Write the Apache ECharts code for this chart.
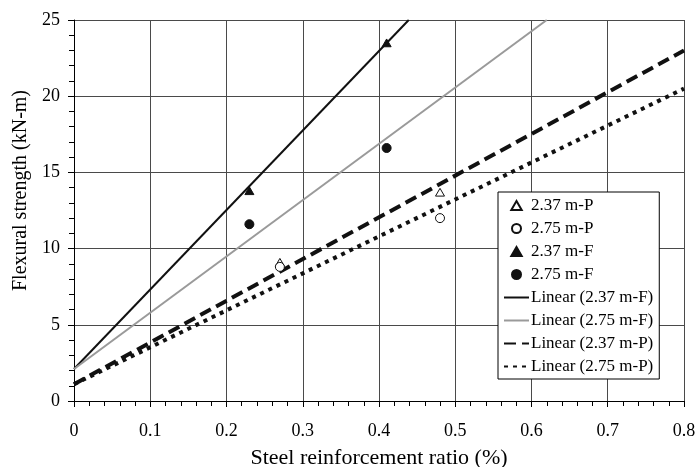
<!DOCTYPE html>
<html>
<head>
<meta charset="utf-8">
<script src="https://cdn.jsdelivr.net/npm/echarts@6/dist/echarts.min.js"></script>
<style>
  html, body { margin: 0; padding: 0; background: #fff; }
  #main { width: 696px; height: 467px; }
</style>
</head>
<body>
<div id="main"></div>
<script>
// measured points (x = steel ratio %, y = strength kN-m)
var p237 = [[0.27, 9.1], [0.48, 13.7]];
var p275 = [[0.27, 8.8], [0.48, 12.0]];
var f237 = [[0.23, 13.8], [0.41, 23.5]];
var f275 = [[0.23, 11.6], [0.41, 16.6]];

// trend line end points
var lin237F = [[0, 2.1], [0.439, 25]];
var lin275F = [[0, 2.1], [0.62, 25]];
var lin237P = [[0, 1.1], [0.8, 23.0]];
var lin275P = [[0, 1.1], [0.8, 20.5]];

var markerNames = ['2.37 m-P', '2.75 m-P', '2.37 m-F', '2.75 m-F'];
var lineNames = ['Linear (2.37 m-F)', 'Linear (2.75 m-F)', 'Linear (2.37 m-P)', 'Linear (2.75 m-P)'];

var FONT = 'Liberation Serif';
// path triangle so it keeps its shape in the legend too
var TRI = 'path://M5,0L10,8.66L0,8.66Z';

var chart = echarts.init(document.getElementById('main'));

function lineSeries(name, data, color, width, type) {
  return {
    name: name,
    type: 'line',
    data: data,
    symbol: 'none',
    silent: true,
    z: 2,
    lineStyle: { color: color, width: width, type: type },
    itemStyle: { color: color }
  };
}

function scatterSeries(name, data, symbol, fill) {
  return {
    name: name,
    type: 'scatter',
    data: data,
    symbol: symbol,
    symbolSize: 9,
    symbolKeepAspect: true,
    z: 3,
    itemStyle: {
      color: fill ? '#111' : '#fff',
      borderColor: '#111',
      borderWidth: 1,
      opacity: 1
    }
  };
}

// legend entries: line entries hide the middle symbol
var legendData = markerNames.map(function (n) { return { name: n }; })
  .concat(lineNames.map(function (n) { return { name: n, itemStyle: { opacity: 0 } }; }));

chart.setOption({
  animation: false,
  backgroundColor: '#fff',
  textStyle: { fontFamily: FONT },
  grid: { left: 74, top: 20, right: 12, bottom: 66, outerBoundsMode: 'none' },
  legend: {
    data: legendData,
    orient: 'vertical',
    left: 498,
    top: 192,
    width: 163,
    padding: [5, 6, 4, 5],
    itemGap: 6,
    itemWidth: 25,
    itemHeight: 9,
    symbolKeepAspect: true,
    backgroundColor: '#fff',
    borderColor: '#000',
    borderWidth: 1,
    textStyle: { fontFamily: FONT, fontSize: 17, color: '#000', padding: [0, 0, 0, -3] }
  },
  xAxis: {
    type: 'value',
    min: 0,
    max: 0.8,
    interval: 0.1,
    name: 'Steel reinforcement ratio (%)',
    nameLocation: 'middle',
    nameGap: 46,
    nameTextStyle: { fontFamily: FONT, fontSize: 22, color: '#000' },
    axisLine: { lineStyle: { color: '#000', width: 1 } },
    axisTick: { show: true, length: 6, inside: false, lineStyle: { color: '#000' } },
    minorTick: { show: true, splitNumber: 5, length: 5, lineStyle: { color: '#000' } },
    axisLabel: {
      fontFamily: FONT, fontSize: 18, color: '#000', margin: 21,
      formatter: function (v) { return String(Math.round(v * 10) / 10); }
    },
    splitLine: { show: true, lineStyle: { color: '#4a4a4a', width: 1 } }
  },
  yAxis: {
    type: 'value',
    min: 0,
    max: 25,
    interval: 5,
    name: 'Flexural strength (kN-m)',
    nameLocation: 'middle',
    nameGap: 42,
    nameTextStyle: { fontFamily: FONT, fontSize: 20, color: '#000', padding: [0, 0, 0, 40] },
    axisLine: { show: true, lineStyle: { color: '#000', width: 1 } },
    axisTick: { show: true, length: 6, inside: false, lineStyle: { color: '#000' } },
    minorTick: { show: true, splitNumber: 5, length: 5, lineStyle: { color: '#000' } },
    axisLabel: { fontFamily: FONT, fontSize: 18, color: '#000', margin: 14 },
    splitLine: { show: true, lineStyle: { color: '#4a4a4a', width: 1 } }
  },
  series: [
    scatterSeries('2.37 m-P', p237, TRI, false),
    scatterSeries('2.75 m-P', p275, 'circle', false),
    scatterSeries('2.37 m-F', f237, TRI, true),
    scatterSeries('2.75 m-F', f275, 'circle', true),
    lineSeries('Linear (2.37 m-F)', lin237F, '#111', 2, 'solid'),
    lineSeries('Linear (2.75 m-F)', lin275F, '#9a9a9a', 2, 'solid'),
    lineSeries('Linear (2.37 m-P)', lin237P, '#111', 4, [12, 6]),
    lineSeries('Linear (2.75 m-P)', lin275P, '#111', 4, [4, 5])
  ]
});
</script>
</body>
</html>
